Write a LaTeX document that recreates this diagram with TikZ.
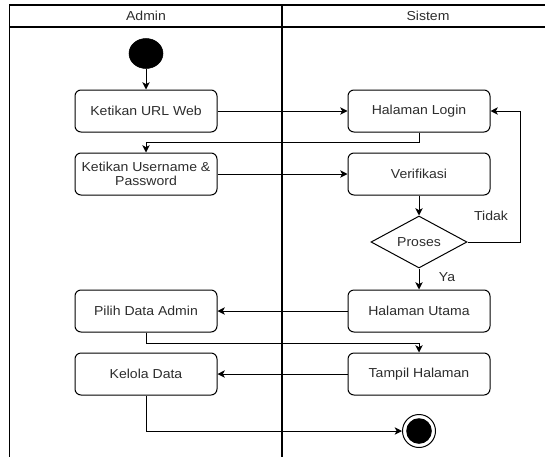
\documentclass[tikz,border=0pt]{standalone}
\usepackage{fontspec}
\setmainfont{Liberation Sans}[FakeStretch=1.08]
\usetikzlibrary{shapes.geometric,arrows.meta,calc}
\definecolor{txt}{RGB}{45,45,45}
\begin{document}
\begin{tikzpicture}[x=0.75pt,y=-0.75pt,
  every node/.style={font=\fontsize{9.75}{10.5}\selectfont, text=txt},
  actbox/.style={draw, rounded corners=4.5pt, line width=0.75pt, minimum width=106.5pt, minimum height=31.5pt, align=center, inner sep=1pt},
  arr/.style={line width=0.75pt, -{Stealth[length=5.5pt,width=5.5pt,inset=1.5pt]}},
  plain/.style={line width=0.75pt},
  lane/.style={line width=0.9pt}]
\useasboundingbox (0,0) rectangle (545,457);
% swimlane frame
\draw[lane] (545,5) -- (9.4,5) -- (9.4,457);
\draw[lane] (9.4,27) -- (545,27);
\draw[lane] (282,5) -- (282,457);
\node (hadmin) at (146,16) {Admin};
\node (hsistem) at (428,16) {Sistem};
% nodes
\node[draw, fill=black, ellipse, minimum width=25.5pt, minimum height=22.5pt, inner sep=0pt] (start) at (146,53.5) {};
\node[actbox] (url) at (146,111) {Ketikan URL Web};
\node[actbox] (login) at (419,111) {Halaman Login};
\node[actbox] (user) at (146,174) {Ketikan Username \&\\Password};
\node[actbox] (verif) at (419,174) {Verifikasi};
\node[draw, diamond, line width=0.75pt, minimum width=72pt, minimum height=39pt, aspect=1.85, inner sep=0pt] (proses) at (419,242) {Proses};
\node[actbox] (utama) at (419,311) {Halaman Utama};
\node[actbox] (pilih) at (146,311) {Pilih Data Admin};
\node[actbox] (kelola) at (146,374) {Kelola Data};
\node[actbox] (tampil) at (419,374) {Tampil Halaman};
\node[draw, circle, line width=0.75pt, minimum size=24.75pt, inner sep=0pt,
  path picture={\fill (path picture bounding box.center) circle (9.6pt);}] (end) at (419,431) {};
\node (tidak) at (491,216) {Tidak};
\node (ya) at (447,277) {Ya};
% connectors
\coordinate (c1) at (146,142);
\coordinate (c2) at (520,242);
\coordinate (c3) at (419,343);
\draw[arr] (start) -- (url);
\draw[arr] (url.east) -- (login.west);
\draw[arr] (login.south) |- (c1) -- (user.north);
\draw[arr] (user.east) -- (verif.west);
\draw[arr] (verif.south) -- (proses.north);
\draw[arr] (proses.east) -- (c2) |- (login.east);
\draw[arr] (proses.south) -- (utama.north);
\draw[arr] (utama.west) -- (pilih.east);
\draw[arr] (pilih.south) |- (c3) -- (tampil.north);
\draw[arr] (tampil.west) -- (kelola.east);
\draw[arr] (kelola.south) |- (end.west);
\end{tikzpicture}
\end{document}
